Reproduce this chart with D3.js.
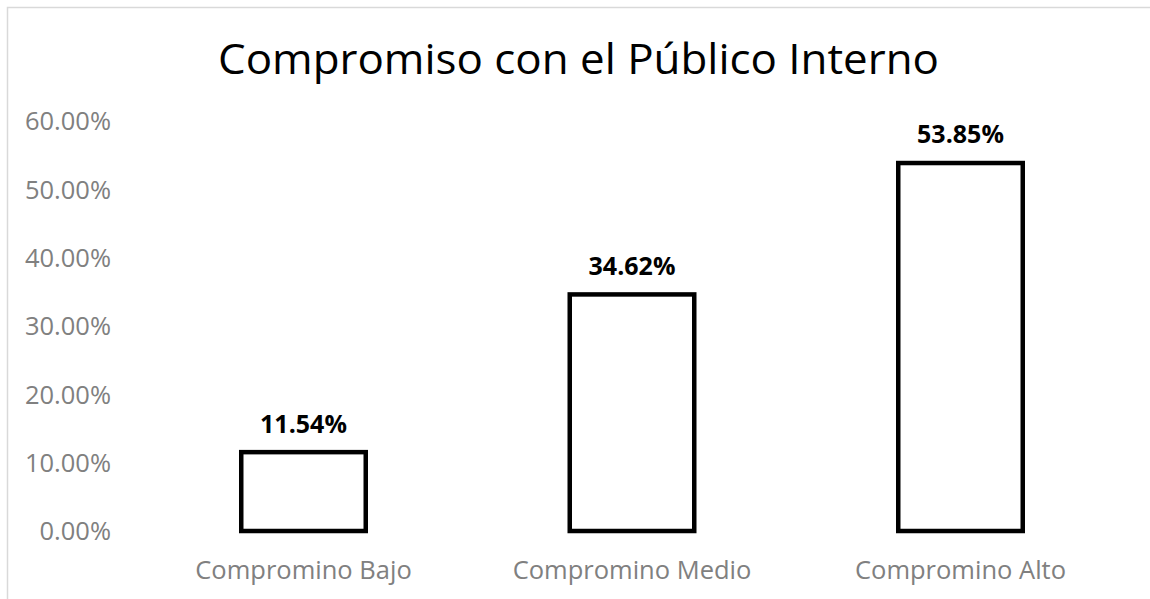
<!DOCTYPE html>
<html>
<head>
<meta charset="utf-8">
<script src="https://cdn.jsdelivr.net/npm/d3@7"></script>
<style>
  body { margin: 0; background: #fff; }
  svg { display: block; font-family: "Open Sans", sans-serif; }
</style>
</head>
<body>
<svg></svg>
<script>
'use strict'

const width = 1150
const height = 599

const categories = ['Compromino Bajo', 'Compromino Medio', 'Compromino Alto']
const values = [11.54, 34.62, 53.85]
const yTicks = [0, 10, 20, 30, 40, 50, 60]
const title = 'Compromiso con el Público Interno'

const svg = d3.select('svg').attr('width', width).attr('height', height)

// chart frame (cut off on the right and bottom, as in the picture)
svg.append('rect')
    .attr('x', 7.5).attr('y', 7.5)
    .attr('width', width + 10).attr('height', height + 10)
    .attr('fill', 'none')
    .attr('stroke', '#d9d9d9')
    .attr('stroke-width', 1.5)

const x = d3.scaleBand()
    .domain(categories)
    .range([139.25, 1124.75])
    .paddingInner(0.621)
    .paddingOuter(0.3105)

const y = d3.scaleLinear().domain([0, 60]).range([531, 121])

svg.append('text')
    .attr('x', 578.5)
    .attr('y', 73.5)
    .attr('text-anchor', 'middle')
    .attr('font-size', 42)
    .attr('fill', '#000')
    .attr('textLength', 721)
    .attr('lengthAdjust', 'spacingAndGlyphs')
    .text(title)

const yAxis = svg.append('g')
    .attr('transform', 'translate(111,0)')
    .call(d3.axisLeft(y).tickValues(yTicks).tickSize(0).tickPadding(0)
        .tickFormat(d => d3.format('.2f')(d) + '%'))
yAxis.select('.domain').remove()
yAxis.selectAll('text')
    .attr('font-family', '"Open Sans", sans-serif')
    .attr('font-size', 25.5)
    .attr('fill', '#808080')
    .attr('dy', '0.35em')

const xAxis = svg.append('g')
    .attr('transform', 'translate(0,531)')
    .call(d3.axisBottom(x).tickSize(0).tickPadding(0))
xAxis.select('.domain').remove()
xAxis.selectAll('text')
    .attr('font-family', '"Open Sans", sans-serif')
    .attr('font-size', 25.5)
    .attr('fill', '#808080')
    .attr('dy', null)
    .attr('y', 48)

svg.append('g')
    .selectAll('rect')
    .data(values)
    .join('rect')
    .attr('x', (d, i) => x(categories[i]))
    .attr('y', d => y(d))
    .attr('width', x.bandwidth())
    .attr('height', d => y(0) - y(d))
    .attr('fill', '#fff')
    .attr('stroke', '#000')
    .attr('stroke-width', 4.5)

svg.append('g')
    .selectAll('text')
    .data(values)
    .join('text')
    .attr('x', (d, i) => x(categories[i]) + x.bandwidth() / 2)
    .attr('y', d => y(d) - 19.6)
    .attr('text-anchor', 'middle')
    .attr('font-size', 25)
    .attr('font-weight', 'bold')
    .attr('fill', '#000')
    .text(d => d.toFixed(2) + '%')
</script>
</body>
</html>
